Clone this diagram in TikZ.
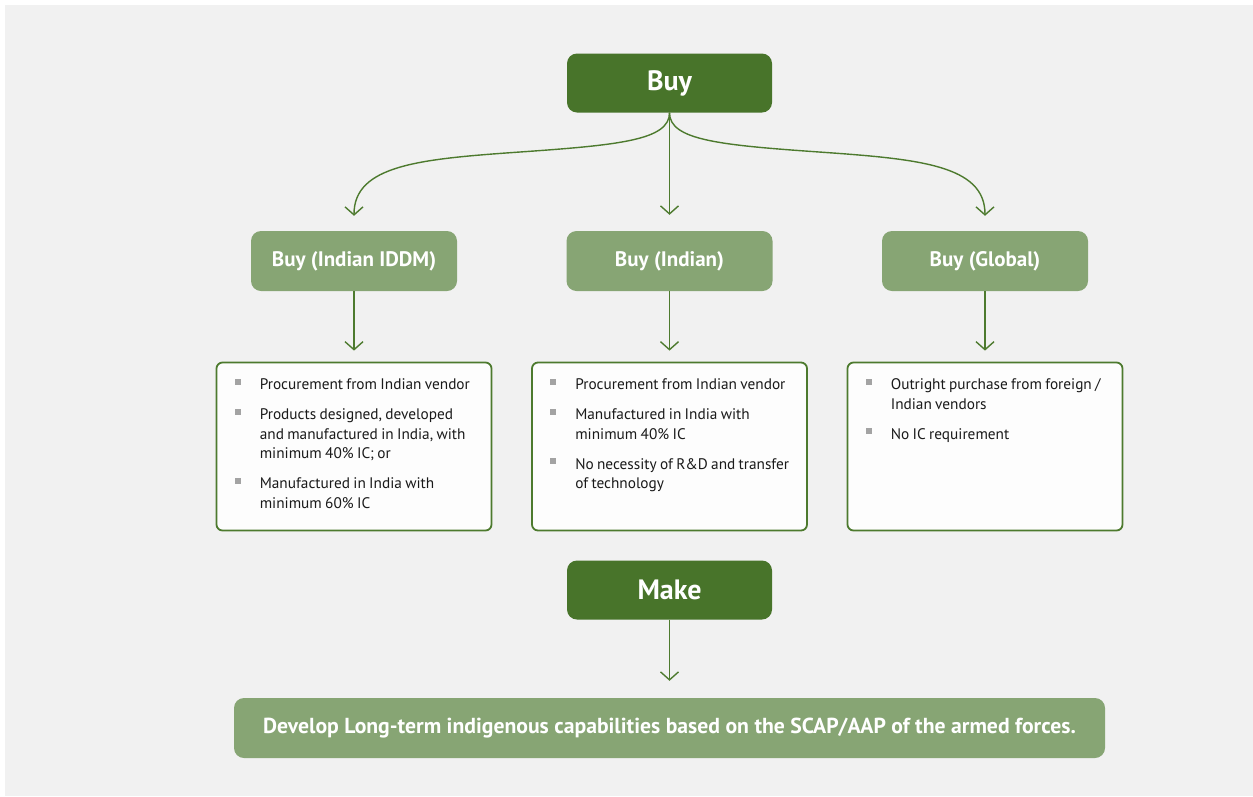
\documentclass[tikz,border=0pt]{standalone}
\usepackage{fontspec}
\setmainfont{PT Sans}
\usetikzlibrary{arrows.meta}
\definecolor{pagegray}{HTML}{F1F1F1}
\definecolor{darkgreen}{HTML}{48742A}
\definecolor{lightgreen}{HTML}{87A574}
\definecolor{linegreen}{HTML}{4D7A2E}
\definecolor{bulletgray}{HTML}{A3A3A3}
\definecolor{boxwhite}{HTML}{FDFDFD}
\definecolor{bodytext}{HTML}{1A1A1A}
% one bulleted entry with a hanging indent
\newcommand\bulletentry[1]{\noindent\hangindent=25pt\hangafter=1\makebox[25pt][l]{\textcolor{bulletgray}{\rule[5pt]{6pt}{6pt}}}#1\par}
\newcommand\bulletlist[1]{\fontsize{15.3pt}{19.5pt}\selectfont\color{bodytext}\raggedright\hyphenpenalty=10000\exhyphenpenalty=10000\parskip=10.5pt #1}
\begin{document}
\begin{tikzpicture}[x=1pt,y=-1pt,
  mainbox/.style={fill=darkgreen, rounded corners=10pt, minimum width=205pt, minimum height=59pt,
    text=white, font=\fontsize{28pt}{32pt}\selectfont\bfseries, inner sep=0pt},
  subbox/.style={fill=lightgreen, rounded corners=10pt, minimum width=206pt, minimum height=60pt,
    text=white, font=\fontsize{21pt}{25pt}\selectfont\bfseries, inner sep=0pt},
  listbox/.style={draw=linegreen, line width=1.8pt, fill=boxwhite, rounded corners=6pt,
    minimum width=275pt, minimum height=168pt, inner sep=0pt},
  listtext/.style={anchor=base west, inner sep=0pt, text width=244pt, align=left},
  flow/.style={draw=linegreen, line width=1.4pt, -{Straight Barb[length=8pt,width=18pt,line width=1.4pt]}}
]
% page and panel
\fill[white] (0,0) rectangle (1253,796);
\fill[pagegray] (5,5) rectangle (1253,796);

% top level
\node[mainbox] (buy) at (669.5,83) {Buy};

% three buy categories
\node[subbox] (iddm) at (354,261) {Buy (Indian IDDM)};
\node[subbox] (indian) at (669.5,261) {Buy (Indian)};
\node[subbox] (global) at (985,261) {Buy (Global)};

% detail panels
\node[listbox] (liddm) at (354,446.5) {};
\node[listbox] (lindian) at (669.5,446.5) {};
\node[listbox] (lglobal) at (985,446.5) {};

\node[listtext] (tiddm) at ([shift={(19,28)}]liddm.north west) {\bulletlist{%
  \bulletentry{Procurement from Indian vendor}
  \bulletentry{Products designed, developed and manufactured in India, with minimum 40\% IC; or}
  \bulletentry{Manufactured in India with minimum 60\% IC}}};
\node[listtext] (tindian) at ([shift={(19,28)}]lindian.north west) {\bulletlist{%
  \bulletentry{Procurement from Indian vendor}
  \bulletentry{Manufactured in India with minimum 40\% IC}
  \bulletentry{No necessity of R\&D and transfer of technology}}};
\node[listtext] (tglobal) at ([shift={(19,28)}]lglobal.north west) {\bulletlist{%
  \bulletentry{Outright purchase from foreign / Indian vendors}
  \bulletentry{No IC requirement}}};

% make branch
\node[mainbox] (make) at (669.5,590) {Make};
\node[subbox, minimum width=871pt, font=\fontsize{21.7pt}{25pt}\selectfont\bfseries] (develop) at (669.5,728)
  {Develop Long-term indigenous capabilities based on the SCAP/AAP of the armed forces.};

% arrow tips above the category boxes
\coordinate (tipl) at ([yshift=15pt]iddm.north);
\coordinate (tipr) at ([yshift=15pt]global.north);

% connectors
\draw[flow] (buy.south) .. controls (669.5,140) and (620,145) .. (520,152)
  .. controls (420,159) and (354,165) .. (tipl);
\draw[flow] (buy.south) .. controls (669.5,140) and (719,145) .. (819,152)
  .. controls (919,159) and (985,165) .. (tipr);
\draw[flow, shorten >=16pt] (buy.south) -- (indian.north);
\draw[flow, shorten >=11pt] (iddm.south) -- (liddm.north);
\draw[flow, shorten >=11pt] (indian.south) -- (lindian.north);
\draw[flow, shorten >=11pt] (global.south) -- (lglobal.north);
\draw[flow, shorten >=17pt] (make.south) -- (develop.north);
\end{tikzpicture}
\end{document}
